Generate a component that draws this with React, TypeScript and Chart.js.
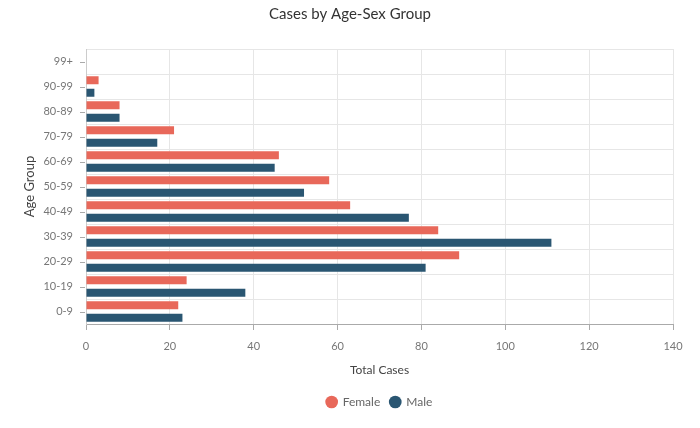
import React, { useEffect, useRef } from "react";
import { Chart, registerables } from "chart.js";

Chart.register(...registerables);

const ageGroups = ["99+", "90-99", "80-89", "70-79", "60-69", "50-59", "40-49", "30-39", "20-29", "10-19", "0-9"];
const femaleCases = [0, 3, 8, 21, 46, 58, 63, 84, 89, 24, 22];
const maleCases = [0, 2, 8, 17, 45, 52, 77, 111, 81, 38, 23];
const seriesNames = ["Female", "Male"];
const xMin = 0;
const xMax = 140;
const xStep = 20;

const FONT = "Lato, 'Open Sans', sans-serif";

const yTickMarks = {
  id: "yTickMarks",
  afterDraw(chart: any) {
    const y = chart.scales.y;
    const ctx = chart.ctx;
    ctx.save();
    ctx.strokeStyle = "#aaaaaa";
    ctx.lineWidth = 1;
    for (let i = 0; i < y.ticks.length; i++) {
      const py = Math.round(y.getPixelForTick(i)) + 0.5;
      ctx.beginPath();
      ctx.moveTo(y.right - 6, py);
      ctx.lineTo(y.right - 1, py);
      ctx.stroke();
    }
    ctx.restore();
  },
};

export default function App() {
  const ref = useRef<HTMLCanvasElement>(null);
  useEffect(() => {
    if (!ref.current) return;
    const chart = new Chart(ref.current, {
      type: "bar",
      data: {
        labels: ageGroups,
        datasets: [
          {
            label: seriesNames[0],
            data: femaleCases,
            backgroundColor: "#e8685a",
            borderWidth: 0,
            categoryPercentage: 1.0,
            barPercentage: 0.64,
          },
          {
            label: seriesNames[1],
            data: maleCases,
            backgroundColor: "#2a5672",
            borderWidth: 0,
            categoryPercentage: 1.0,
            barPercentage: 0.64,
          },
        ],
      },
      options: {
        indexAxis: "y",
        animation: false,
        responsive: true,
        maintainAspectRatio: false,
        layout: { padding: { left: 0, right: 0, top: 0, bottom: 10 } },
        font: { family: FONT },
        plugins: {
          title: {
            display: true,
            text: "Cases by Age-Sex Group",
            color: "#333333",
            font: { family: FONT, size: 15, weight: "normal" },
            padding: { top: 5, bottom: 26 },
          },
          legend: {
            display: true,
            position: "bottom",
            fullSize: false,
            labels: {
              usePointStyle: true,
              pointStyle: "circle",
              boxWidth: 10,
              boxHeight: 9,
              padding: 10,
              color: "#666666",
              font: { family: FONT, size: 12 },
            },
          },
          tooltip: { enabled: false },
        },
        scales: {
          x: {
            min: xMin,
            max: xMax,
            ticks: {
              stepSize: xStep,
              color: "#777777",
              font: { family: FONT, size: 11 },
              padding: 10,
            },
            grid: {
              color: "#e6e6e6",
              tickColor: "#aaaaaa",
              tickLength: 6,
            },
            border: { color: "#aaaaaa" },
            title: {
              display: true,
              text: "Total Cases",
              color: "#444444",
              font: { family: FONT, size: 12 },
              padding: { top: 0, bottom: 9 },
            },
            afterFit: (axis: any) => {
              axis.height = 62;
            },
          },
          y: {
            ticks: {
              color: "#777777",
              font: { family: FONT, size: 11 },
              padding: 13,
            },
            grid: {
              color: "#e6e6e6",
              drawTicks: false,
              offset: true,
            },
            border: { color: "#cccccc" },
            title: {
              display: true,
              text: "Age Group",
              color: "#444444",
              font: { family: FONT, size: 13 },
              padding: { top: 22, bottom: 0 },
            },
            afterFit: (axis: any) => {
              axis.width = 86;
            },
          },
          yRight: {
            position: "right",
            display: true,
            ticks: { display: false },
            grid: { display: false, drawTicks: false },
            border: { display: false },
            afterFit: (axis: any) => {
              axis.width = 27;
            },
          },
        },
      },
      plugins: [yTickMarks],
    } as any);
    return () => chart.destroy();
  }, []);
  return (
    <div style={{ position: "absolute", left: 0, top: 0, width: 700, height: 428 }}>
      <canvas ref={ref} />
    </div>
  );
}
